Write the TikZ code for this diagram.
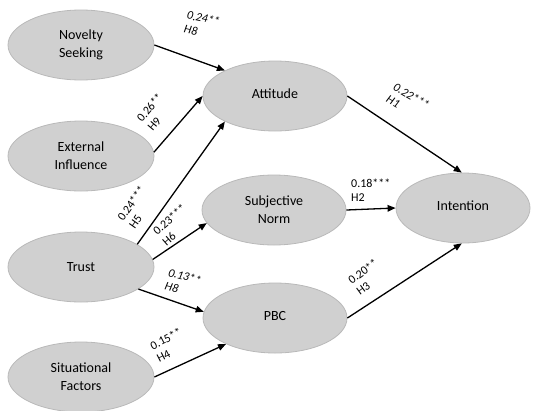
\documentclass[tikz,border=0pt]{standalone}
\usepackage{fontspec}
\setmainfont{Carlito}
\usetikzlibrary{shapes.geometric,arrows.meta}
\definecolor{ellfill}{RGB}{208,208,208}
\definecolor{elldraw}{RGB}{185,185,185}
\tikzset{
  construct/.style={ellipse, draw=elldraw, fill=ellfill, line width=0.8pt,
    minimum width=146pt, minimum height=70pt, inner sep=0pt, align=center,
    font=\fontsize{14}{18}\selectfont},
  path/.style={line width=1.3pt, -{Triangle[length=8pt,width=6.5pt]}},
  coef/.style={font=\fontsize{12}{14}\selectfont, align=left, inner sep=0pt},
  coefit/.style={coef, font=\fontsize{12}{14}\selectfont\itshape}
}
\begin{document}
\begin{tikzpicture}[x=1pt,y=-1pt]
\useasboundingbox (0,0) rectangle (534,410);
\node[construct] (ns) at (81,45) {Novelty\\Seeking};
\node[construct] (ei) at (81,156) {External\\Influence};
\node[construct] (tr) at (81,267) {Trust};
\node[construct] (sf) at (81,377) {Situational\\Factors};
\node[construct, minimum width=144pt] (att) at (275,96) {\raisebox{4pt}{Attitude}};
\node[construct, minimum width=144pt] (sn) at (274,210) {Subjective\\Norm};
\node[construct, minimum width=144pt] (pbc) at (275,318) {\raisebox{4pt}{PBC}};
\node[construct, minimum width=134pt] (int) at (463,208) {\raisebox{5pt}{Intention}};

\draw[path] (ns.east) -- (att.153);
\draw[path] (ei.3) -- (att.180);
\draw[path] (tr.22) -- (att.207);
\draw[path] (tr.6) -- (sn.191);
\draw[path] (tr.339) -- (pbc.175);
\draw[path] (sf.east) -- (pbc.208);
\draw[path] (att.east) -- (int.92);
\draw[path] (sn.east) -- (int.west);
\draw[path] (pbc.east) -- (int.268);

\node[coefit, rotate=-12] (l1) at (202,25) {0.24**\\H8};
\node[coef, rotate=50] (l2) at (155,112) {0.26**\\H9};
\node[coef, rotate=55] (l3) at (137,207) {0.24***\\H5};
\node[coef, rotate=41] (l4) at (174,225) {0.23***\\H6};
\node[coefit, rotate=-15] (l5) at (183,283) {0.13**\\H8};
\node[coef, rotate=27] (l6) at (169,345) {0.15**\\H4};
\node[coefit, rotate=-30] (l7) at (408,102) {0.22***\\H1};
\node[coef, anchor=west] (l8) at (351,190) {0.18***\\H2};
\node[coef, rotate=36] (l9) at (367,277) {0.20**\\H3};
\end{tikzpicture}
\end{document}
